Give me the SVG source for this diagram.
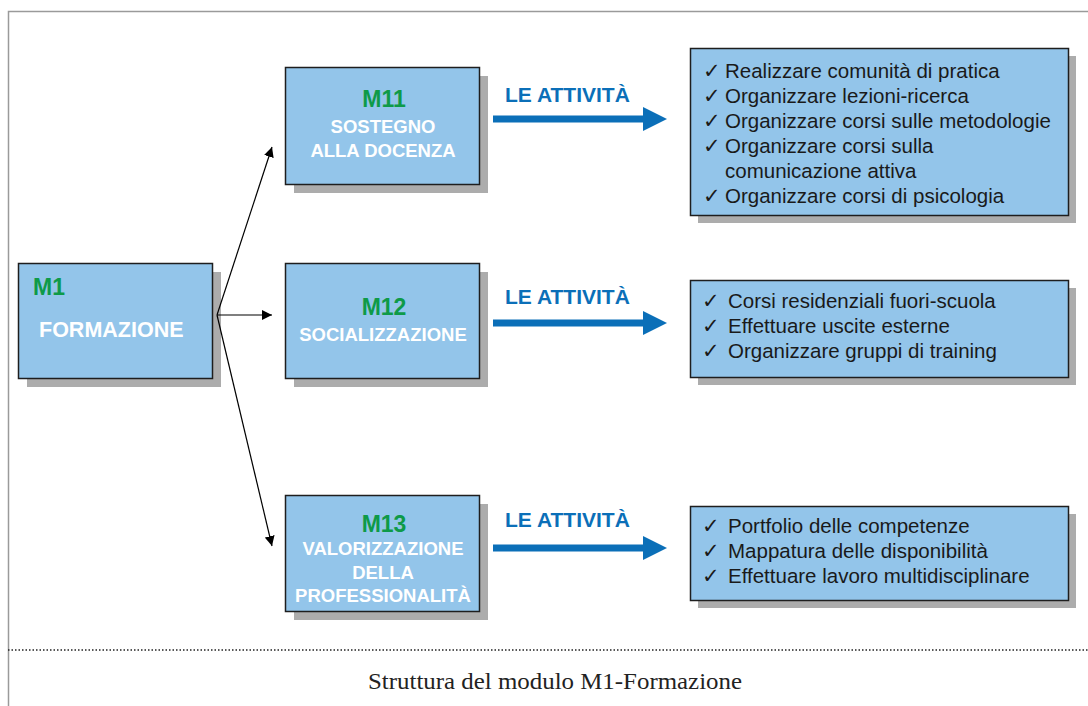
<svg xmlns="http://www.w3.org/2000/svg" width="1088" height="706" viewBox="0 0 1088 706">
<defs>
<style>
.box{fill:#93c5ea;stroke:#1e1e1e;stroke-width:1.5}
.sh{fill:#acacac}
.code{font-family:"Liberation Sans",Arial,sans-serif;font-weight:bold;fill:#0e9a48;font-size:23px}
.title{font-family:"Liberation Sans",Arial,sans-serif;font-weight:bold;fill:#ffffff;font-size:18.5px}
.att{font-family:"Liberation Sans",Arial,sans-serif;font-weight:bold;fill:#0b6fb8;font-size:21px}
.item{font-family:"Liberation Sans",Arial,sans-serif;fill:#1a1a1a;font-size:20.5px}
.conn{stroke:#000;stroke-width:1.2;fill:none}
.big{fill:#0b6fb8}
</style>
<marker id="ah" viewBox="0 0 10 10" refX="10" refY="5" markerWidth="10" markerHeight="10" markerUnits="userSpaceOnUse" orient="auto">
<path d="M0,0 L10,5 L0,10 z" fill="#000"/>
</marker>
</defs>
<rect width="1088" height="706" fill="#fff"/>
<g id="frame" stroke="#9a9a9a" stroke-width="1.5" fill="none">
<path d="M8.5,706 V11.5 H1088"/>
</g>
<line x1="8" y1="650" x2="1088" y2="650" stroke="#222" stroke-width="1.5" stroke-dasharray="1.5 2"/>

<g id="M1">
<rect class="sh" x="27" y="272" width="194" height="115"/>
<rect class="box" x="18.5" y="263.5" width="194" height="115"/>
<text class="code" x="33" y="295">M1</text>
<text class="title" x="39" y="337" style="font-size:21.5px">FORMAZIONE</text>
</g>

<g id="M11">
<rect class="sh" x="294" y="76" width="194" height="117"/>
<rect class="box" x="285.5" y="67.5" width="194" height="117"/>
<text class="code" x="384" y="107" text-anchor="middle">M11</text>
<text class="title" x="383" y="133" text-anchor="middle">SOSTEGNO</text>
<text class="title" x="383" y="157" text-anchor="middle">ALLA DOCENZA</text>
</g>

<g id="M12">
<rect class="sh" x="294" y="272" width="194" height="115"/>
<rect class="box" x="285.5" y="263.5" width="194" height="115"/>
<text class="code" x="384" y="315" text-anchor="middle">M12</text>
<text class="title" x="383" y="341" text-anchor="middle">SOCIALIZZAZIONE</text>
</g>

<g id="M13">
<rect class="sh" x="294" y="504" width="194" height="116"/>
<rect class="box" x="285.5" y="495.5" width="194" height="116"/>
<text class="code" x="384" y="532" text-anchor="middle">M13</text>
<text class="title" x="383" y="555" text-anchor="middle">VALORIZZAZIONE</text>
<text class="title" x="383" y="579" text-anchor="middle">DELLA</text>
<text class="title" x="383" y="602" text-anchor="middle">PROFESSIONALITÀ</text>
</g>

<g id="A11">
<rect class="sh" x="698" y="56" width="378" height="167"/>
<rect class="box" x="690.5" y="48.5" width="378" height="167"/>
<text class="item" y="78"><tspan x="703">✓</tspan><tspan x="725">Realizzare comunità di pratica</tspan></text>
<text class="item" y="103"><tspan x="703">✓</tspan><tspan x="725">Organizzare lezioni-ricerca</tspan></text>
<text class="item" y="128"><tspan x="703">✓</tspan><tspan x="725">Organizzare corsi sulle metodologie</tspan></text>
<text class="item" y="153"><tspan x="703">✓</tspan><tspan x="725">Organizzare corsi sulla</tspan></text>
<text class="item" x="725" y="178">comunicazione attiva</text>
<text class="item" y="203"><tspan x="703">✓</tspan><tspan x="725">Organizzare corsi di psicologia</tspan></text>
</g>

<g id="A12">
<rect class="sh" x="698" y="288" width="378" height="97"/>
<rect class="box" x="690.5" y="280.5" width="378" height="97"/>
<text class="item" y="308"><tspan x="702">✓</tspan><tspan x="728">Corsi residenziali fuori-scuola</tspan></text>
<text class="item" y="333"><tspan x="702">✓</tspan><tspan x="728">Effettuare uscite esterne</tspan></text>
<text class="item" y="358"><tspan x="702">✓</tspan><tspan x="728">Organizzare gruppi di training</tspan></text>
</g>

<g id="A13">
<rect class="sh" x="698" y="514" width="378" height="94"/>
<rect class="box" x="690.5" y="506.5" width="378" height="94"/>
<text class="item" y="533"><tspan x="702">✓</tspan><tspan x="728">Portfolio delle competenze</tspan></text>
<text class="item" y="558"><tspan x="702">✓</tspan><tspan x="728">Mappatura delle disponibilità</tspan></text>
<text class="item" y="583"><tspan x="702">✓</tspan><tspan x="728">Effettuare lavoro multidisciplinare</tspan></text>
</g>

<g id="connectors">
<line class="conn" x1="217" y1="315" x2="272" y2="147" marker-end="url(#ah)"/>
<line class="conn" x1="217" y1="315" x2="272" y2="315" marker-end="url(#ah)"/>
<line class="conn" x1="217" y1="315" x2="272" y2="546" marker-end="url(#ah)"/>
<g id="arrow1">
<text class="att" x="505" y="102">LE ATTIVITÀ</text>
<rect class="big" x="493" y="115.5" width="152" height="7"/>
<path class="big" d="M643,107 L667,119 L643,131 z"/>
</g>
<g id="arrow2">
<text class="att" x="505" y="304">LE ATTIVITÀ</text>
<rect class="big" x="493" y="319.5" width="152" height="7"/>
<path class="big" d="M643,311 L667,323 L643,335 z"/>
</g>
<g id="arrow3">
<text class="att" x="505" y="527">LE ATTIVITÀ</text>
<rect class="big" x="493" y="544.5" width="152" height="7"/>
<path class="big" d="M643,536 L667,548 L643,560 z"/>
</g>
</g>

<text x="368" y="689" textLength="374" lengthAdjust="spacingAndGlyphs" font-family="'Liberation Serif','Times New Roman',serif" font-size="23" fill="#222">Struttura del modulo M1-Formazione</text>
</svg>
